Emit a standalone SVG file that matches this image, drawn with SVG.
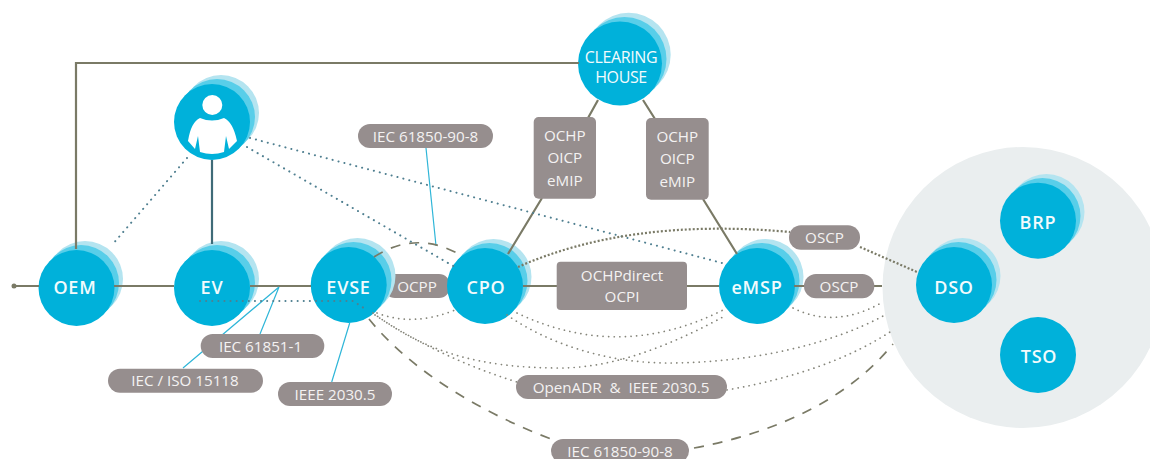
<svg xmlns="http://www.w3.org/2000/svg" width="1150" height="459" viewBox="0 0 1150 459">
<style>
.h1{fill:#b4e4f0}.h2{fill:#58cee9}.m{fill:#00b1da}
.nt{font-family:"Open Sans","Noto Sans",sans-serif;font-size:18px;font-weight:600;fill:#f2fbfd;text-anchor:middle;letter-spacing:.8px}
.ch{font-size:16px;font-weight:500;letter-spacing:-.4px}
.pill{fill:#968e8e}
.pt{font-family:"Open Sans","Noto Sans",sans-serif;font-size:15.2px;fill:#f4f2f2;text-anchor:middle}
.s{fill:none;stroke:#7a7a66;stroke-width:2.2}
.t{fill:none;stroke:#3f6b78;stroke-width:2.2}
.b{fill:none;stroke:#2fb6d8;stroke-width:1.2}
.dg{fill:none;stroke:#85857a;stroke-width:1.7;stroke-dasharray:.1 5.5;stroke-linecap:round}
.db{fill:none;stroke:#4f7f90;stroke-width:2;stroke-dasharray:.1 6;stroke-linecap:round}
.dk{fill:none;stroke:#7a7a66;stroke-width:2.2;stroke-dasharray:2 2}
.da{fill:none;stroke:#7a7a66;stroke-width:1.7;stroke-dasharray:10 9}
</style>
<circle cx="1023" cy="287.500" r="140.500" fill="#eaeeef"/>
<g id="pill-ocpp"><rect class="pill" x="384" y="274" width="66" height="24" rx="11"/><text class="pt" x="417" y="291.500">OCPP</text></g>
<g id="node-oem"><circle class="h1" cx="85" cy="279" r="38"/><circle class="h2" cx="81" cy="283" r="38"/><circle class="m" cx="76.500" cy="288" r="38"/><text class="nt" x="75" y="294">OEM</text></g>
<g id="node-user"><circle class="h1" cx="221" cy="113" r="38"/><circle class="h2" cx="217" cy="117" r="38"/><circle class="m" cx="212" cy="122" r="38"/><circle cx="212.300" cy="105" r="10" fill="#fff"/><path d="M200 118 Q212 123 224 118 Q233 122 237 141 L229 149 L226 136 L224 152 Q212 156 200 152 L198 136 L195 149 L188 141 Q191 122 200 118Z" fill="#fff"/></g>
<g id="node-ev"><circle class="h1" cx="221" cy="279" r="38"/><circle class="h2" cx="217" cy="283" r="38"/><circle class="m" cx="212" cy="288" r="38"/><text class="nt" x="212" y="294">EV</text></g>
<g id="node-evse"><circle class="h1" cx="357.500" cy="276" r="38"/><circle class="h2" cx="353.500" cy="280" r="38"/><circle class="m" cx="348.700" cy="285" r="38"/><text class="nt" x="348.500" y="294">EVSE</text></g>
<g id="node-cpo"><circle class="h1" cx="493.500" cy="277" r="38"/><circle class="h2" cx="489.500" cy="281" r="38"/><circle class="m" cx="485" cy="286" r="38"/><text class="nt" x="486" y="293.500">CPO</text></g>
<g id="node-emsp"><circle class="h1" cx="765.500" cy="277" r="38"/><circle class="h2" cx="761.500" cy="281" r="38"/><circle class="m" cx="757" cy="286" r="38"/><text class="nt" x="757" y="293.500">eMSP</text></g>
<g id="node-clearing"><circle class="h1" cx="628.700" cy="54.700" r="42"/><circle class="h2" cx="624.500" cy="59" r="42"/><circle class="m" cx="620" cy="63.500" r="42"/><text class="nt ch" x="621" y="63">CLEARING</text><text class="nt ch" x="621" y="83">HOUSE</text></g>
<g id="node-dso"><circle class="h1" cx="962.500" cy="276" r="38"/><circle class="h2" cx="958.500" cy="280" r="38"/><circle class="m" cx="954" cy="285" r="38"/><text class="nt" x="954" y="293.500">DSO</text></g>
<g id="node-brp"><circle class="h1" cx="1046.500" cy="212" r="38"/><circle class="h2" cx="1042.500" cy="216" r="38"/><circle class="m" cx="1038" cy="220.700" r="38"/><text class="nt" x="1038" y="228.500">BRP</text></g>
<g id="node-tso"><circle class="m" cx="1038" cy="355" r="38"/><text class="nt" x="1039" y="363">TSO</text></g>
<g id="connectors">
<path class="s" d="M14 286H39M114 286H174M250 286H311M523 286H719M794 286H882"/>
<circle cx="14" cy="286" r="2.500" fill="#7a7a66"/>
<path class="s" d="M76 249V63H579"/>
<path class="t" d="M212 160V244"/>
<path class="s" d="M598 100L588 118M643 100L655 119M542 198L508 254M703 199L737 254"/>
<path class="b" d="M279 287L183 368M279 287L260 334M349.700 323L331.700 382M426 148L436 245.700"/>
<path class="da" d="M374 257Q417 229 462 256"/>
<path class="da" d="M369 319C410 370 480 412 551 439M694 448C780 432 850 397 893 344"/>
<path class="dg" d="M377 313Q413 327 455 310"/>
<path class="dg" d="M373 313C425 352 480 368 560 368C620 368 680 340 723 317"/>
<path class="dg" d="M375 315Q440 358 517 382M727 390Q830 372 893 330"/>
<path class="dg" d="M517 313Q620 362 723 310"/>
<path class="dg" d="M507 315C550 345 610 363 667 363C750 363 830 345 885 315"/>
<path class="dg" d="M793 308Q835 329 881 303"/>
<path class="db" d="M200 301H353L367 310"/>
<path class="db" d="M247 147L455 267M250 138L722 263M187 158L112 245"/>
<path class="dk" d="M518 267C590 235 680 222 790 232M860 247L917 272"/>
</g>
<g id="labels">
<g><rect class="pill" x="358" y="124" width="135" height="24" rx="12"/><text class="pt" x="425.500" y="141.500">IEC 61850-90-8</text></g>
<g><rect class="pill" x="533.700" y="117" width="62.300" height="81.700" rx="5"/><text class="pt" x="564.800" y="140.500">OCHP</text><text class="pt" x="564.800" y="163">OICP</text><text class="pt" x="564.800" y="185.500">eMIP</text></g>
<g><rect class="pill" x="646" y="118" width="62.700" height="81.700" rx="5"/><text class="pt" x="677.300" y="141.500">OCHP</text><text class="pt" x="677.300" y="164">OICP</text><text class="pt" x="677.300" y="186.500">eMIP</text></g>
<g><rect class="pill" x="556.700" y="261.700" width="130.300" height="48.300" rx="4"/><text class="pt" x="622" y="281">OCHPdirect</text><text class="pt" x="622" y="302">OCPI</text></g>
<g><rect class="pill" x="789" y="225.300" width="71" height="24.400" rx="12"/><text class="pt" x="824.500" y="242.500">OSCP</text></g>
<g><rect class="pill" x="804" y="274" width="70.300" height="24.300" rx="12"/><text class="pt" x="839" y="291.500">OSCP</text></g>
<g><rect class="pill" x="200.700" y="334" width="123.600" height="24" rx="12"/><text class="pt" x="260.500" y="351.500">IEC 61851-1</text></g>
<g><rect class="pill" x="108" y="368.700" width="155" height="24" rx="12"/><text class="pt" x="185" y="386">IEC / ISO 15118</text></g>
<g><rect class="pill" x="278" y="382" width="114" height="24" rx="12"/><text class="pt" x="335" y="399.500">IEEE 2030.5</text></g>
<g><rect class="pill" x="516" y="375" width="211" height="24" rx="12"/><text class="pt" x="621" y="392.500" xml:space="preserve">OpenADR  &amp;  IEEE 2030.5</text></g>
<g><rect class="pill" x="551" y="439" width="138" height="24" rx="12"/><text class="pt" x="620" y="456.500">IEC 61850-90-8</text></g>
</g>
</svg>
